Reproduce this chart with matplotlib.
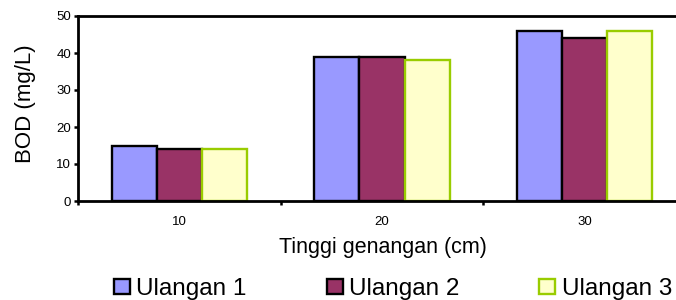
import numpy as np
import matplotlib
matplotlib.use('Agg')
from matplotlib import pyplot as plt

plt.rcParams['font.family'] = ['Liberation Sans', 'DejaVu Sans']

# data
categories = ['10', '20', '30']
ulangan_1 = [15, 39, 46]
ulangan_2 = [14, 39, 44]
ulangan_3 = [14, 38, 46]
series_names = ['Ulangan 1', 'Ulangan 2', 'Ulangan 3']

faces = ['#9999FF', '#993366', '#FFFFCC']
edges = ['black', 'black', '#99CC00']

fig = plt.figure(figsize=(6.76, 3.0), dpi=100)
# the right end of the plot area runs off the picture, as in the original
ax = fig.add_axes([78 / 676, 1 - 201 / 300, 608 / 676, 185 / 300])

x = np.arange(len(categories)) + 0.5
w = 0.223
for i, vals in enumerate([ulangan_1, ulangan_2, ulangan_3]):
    ax.bar(x + (i - 1) * w, vals, width=w, color=faces[i], edgecolor=edges[i],
           linewidth=1.7, label=series_names[i], zorder=2)

ax.set_xlim(0, len(categories))
ax.set_ylim(0, 50)
ax.set_yticks(range(0, 51, 10))

# ticks at category borders, labels in the middle
ax.set_xticks(np.arange(len(categories) + 1))
ax.set_xticklabels([])
ax.set_xticks(x, minor=True)
ax.set_xticklabels(categories, minor=True)
ax.tick_params(axis='x', which='minor', length=0, pad=10.5, labelsize=9.5)
ax.tick_params(axis='x', which='major', length=3, width=1.8)
ax.tick_params(axis='y', length=3, width=1.8, labelsize=9.5, pad=2)

for s in ['left', 'bottom', 'top']:
    ax.spines[s].set_linewidth(2)
ax.spines['right'].set_visible(False)

ax.set_ylabel('BOD (mg/L)', fontsize=16, rotation=90, ha='center', va='center')
ax.yaxis.set_label_coords((26 - 78) / 608, (201 - 104) / 185)
ax.set_xlabel('Tinggi genangan (cm)', fontsize=15.5, ha='center', va='center')
ax.xaxis.set_label_coords((383 - 78) / 608, (201 - 248) / 185)

handles, labels = ax.get_legend_handles_labels()
fig.legend(handles, labels, loc='center left', bbox_to_anchor=(114 / 676, 1 - 289 / 300),
           ncol=3, frameon=False, fontsize=17.5, handlelength=0.66, handleheight=0.62,
           handletextpad=0.25, columnspacing=3.3, borderpad=0, borderaxespad=0)

plt.savefig('out.png', dpi=100)
